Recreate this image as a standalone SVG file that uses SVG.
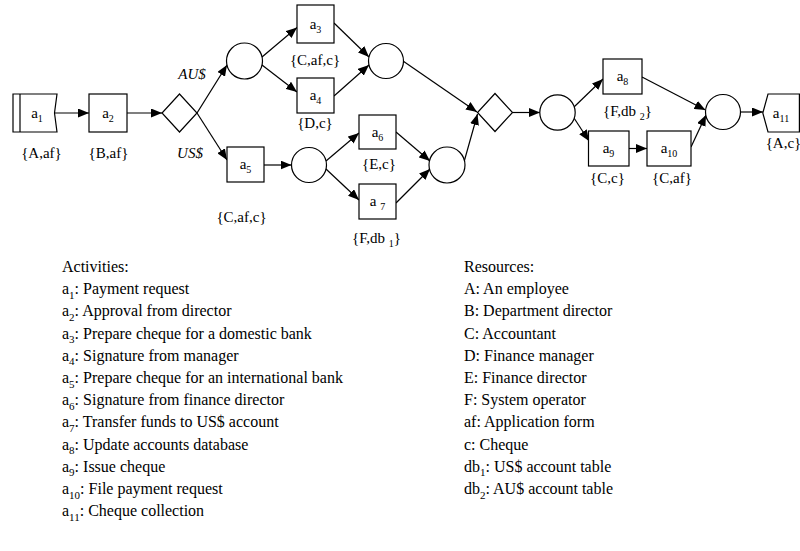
<svg xmlns="http://www.w3.org/2000/svg" width="800" height="551" viewBox="0 0 800 551">
  <defs>
    <marker id="ah" markerUnits="userSpaceOnUse" markerWidth="11" markerHeight="9" refX="11" refY="4.5" orient="auto">
      <path d="M0,0 L11,4.5 L0,9 z" fill="#000"/>
    </marker>
  </defs>
  <style>
    .shape { fill:#fff; stroke:#000; stroke-width:1.2; }
    .conn line { stroke:#000; stroke-width:1.2; marker-end:url(#ah); }
    text { font-family:"Liberation Serif","Times New Roman",serif; fill:#000; }
    .lbl { font-size:15px; text-anchor:middle; }
    .res { font-size:15px; text-anchor:middle; }
    .cond { font-size:15px; font-style:italic; text-anchor:middle; }
    .sub { font-size:10px; }
    .list { font-size:16px; }
    .lsub { font-size:11px; }
  </style>
  <rect width="800" height="551" fill="#fff"/>

  <!-- connectors -->
  <g id="connectors" class="conn">
    <line x1="55" y1="113" x2="89" y2="113"/>
    <line x1="127" y1="113" x2="162" y2="113"/>
    <line x1="197" y1="113" x2="227" y2="65"/>
    <line x1="197" y1="113" x2="227" y2="160"/>
    <line x1="262" y1="57" x2="297" y2="27.5"/>
    <line x1="262" y1="65" x2="297" y2="92"/>
    <line x1="334" y1="23" x2="369" y2="57"/>
    <line x1="334" y1="96" x2="369" y2="65"/>
    <line x1="403" y1="61" x2="477" y2="112"/>
    <line x1="264" y1="165" x2="291.5" y2="165"/>
    <line x1="326" y1="161" x2="359" y2="133"/>
    <line x1="326" y1="169" x2="359" y2="200"/>
    <line x1="396" y1="132" x2="430" y2="161"/>
    <line x1="396" y1="203" x2="430" y2="169"/>
    <line x1="464" y1="162" x2="477.5" y2="114"/>
    <line x1="512.5" y1="112.5" x2="540" y2="112.5"/>
    <line x1="574" y1="107" x2="603" y2="79"/>
    <line x1="574" y1="118" x2="589" y2="141"/>
    <line x1="629" y1="148.5" x2="647" y2="148.5"/>
    <line x1="642" y1="77" x2="705.5" y2="110"/>
    <line x1="691" y1="147" x2="706" y2="115"/>
    <line x1="740.5" y1="112" x2="763" y2="112"/>
  </g>

  <!-- a1: start activity -->
  <g id="a1">
    <path class="shape" d="M13,94 H57 L54.5,113 L57,132 H13 Z"/>
    <line x1="20" y1="94" x2="20" y2="132" stroke="#000" stroke-width="1.2"/>
    <text class="lbl" x="37" y="117.5">a<tspan class="sub" dy="4">1</tspan></text>
    <text class="res" x="41.5" y="158">{A,af}</text>
  </g>

  <g id="a2">
    <rect class="shape" x="89" y="94" width="38" height="38"/>
    <text class="lbl" x="108" y="117.5">a<tspan class="sub" dy="4">2</tspan></text>
    <text class="res" x="108.5" y="158">{B,af}</text>
  </g>

  <!-- decision -->
  <g id="xor-split">
    <path class="shape" d="M179.5,94 L197,113 L179.5,132 L162,113 Z"/>
    <text class="cond" x="192" y="79">AU$</text>
    <text class="cond" x="190" y="158">US$</text>
  </g>

  <g id="p1"><circle class="shape" cx="244.5" cy="61" r="18"/></g>

  <g id="a3">
    <rect class="shape" x="297" y="5" width="37" height="38"/>
    <text class="lbl" x="315.5" y="28.5">a<tspan class="sub" dy="4">3</tspan></text>
    <text class="res" x="315" y="65">{C,af,c}</text>
  </g>

  <g id="a4">
    <rect class="shape" x="297" y="78" width="37" height="35"/>
    <text class="lbl" x="315.5" y="100">a<tspan class="sub" dy="4">4</tspan></text>
    <text class="res" x="315" y="128">{D,c}</text>
  </g>

  <g id="p2"><circle class="shape" cx="386" cy="61" r="17.5"/></g>

  <g id="a5">
    <rect class="shape" x="227" y="147" width="37" height="35"/>
    <text class="lbl" x="245.5" y="169">a<tspan class="sub" dy="4">5</tspan></text>
    <text class="res" x="241.5" y="222">{C,af,c}</text>
  </g>

  <g id="p3"><circle class="shape" cx="309" cy="165" r="17.5"/></g>

  <g id="a6">
    <rect class="shape" x="359" y="115" width="37" height="34"/>
    <text class="lbl" x="377.5" y="136.5">a<tspan class="sub" dy="4">6</tspan></text>
    <text class="res" x="379" y="169">{E,c}</text>
  </g>

  <g id="a7">
    <rect class="shape" x="359" y="184" width="37" height="35"/>
    <text class="lbl" x="377.5" y="206">a <tspan class="sub" dy="4">7</tspan></text>
    <text class="res" x="376.5" y="243">{F,db <tspan class="sub" dy="4">1</tspan><tspan dy="-4">}</tspan></text>
  </g>

  <g id="p4"><circle class="shape" cx="447" cy="165" r="18"/></g>

  <!-- merge -->
  <g id="xor-join">
    <path class="shape" d="M495,93.5 L512.5,112.5 L495,131.5 L477.5,112.5 Z"/>
  </g>

  <g id="p5"><circle class="shape" cx="557.5" cy="112.5" r="17.7"/></g>

  <g id="a8">
    <rect class="shape" x="603" y="59" width="39" height="35"/>
    <text class="lbl" x="622.5" y="81">a<tspan class="sub" dy="4">8</tspan></text>
    <text class="res" x="627.5" y="116">{F,db <tspan class="sub" dy="4">2</tspan><tspan dy="-4">}</tspan></text>
  </g>

  <g id="a9">
    <rect class="shape" x="588.5" y="131" width="40.5" height="35"/>
    <text class="lbl" x="608.5" y="153">a<tspan class="sub" dy="4">9</tspan></text>
    <text class="res" x="607.5" y="183">{C,c}</text>
  </g>

  <g id="a10">
    <rect class="shape" x="647" y="131" width="44" height="35"/>
    <text class="lbl" x="669" y="153">a<tspan class="sub" dy="4">10</tspan></text>
    <text class="res" x="672" y="183">{C,af}</text>
  </g>

  <g id="p6"><circle class="shape" cx="723" cy="112" r="17.5"/></g>

  <!-- a11: end activity -->
  <g id="a11">
    <path class="shape" d="M768,94 H799.4 V132 H768 L762.8,113 Z"/>
    <text class="lbl" x="781" y="117.5">a<tspan class="sub" dy="4">11</tspan></text>
    <text class="res" x="783.5" y="148">{A,c}</text>
  </g>

  <!-- legend: activities -->
  <g id="activities" class="list">
    <text x="62" y="272">Activities:</text>
    <text x="62" y="294.2">a<tspan class="lsub" dy="4.5">1</tspan><tspan dy="-4.5">: Payment request</tspan></text>
    <text x="62" y="316.4">a<tspan class="lsub" dy="4.5">2</tspan><tspan dy="-4.5">: Approval from director</tspan></text>
    <text x="62" y="338.6">a<tspan class="lsub" dy="4.5">3</tspan><tspan dy="-4.5">: Prepare cheque for a domestic bank</tspan></text>
    <text x="62" y="360.8">a<tspan class="lsub" dy="4.5">4</tspan><tspan dy="-4.5">: Signature from manager</tspan></text>
    <text x="62" y="383">a<tspan class="lsub" dy="4.5">5</tspan><tspan dy="-4.5">: Prepare cheque for an international bank</tspan></text>
    <text x="62" y="405.2">a<tspan class="lsub" dy="4.5">6</tspan><tspan dy="-4.5">: Signature from finance director</tspan></text>
    <text x="62" y="427.4">a<tspan class="lsub" dy="4.5">7</tspan><tspan dy="-4.5">: Transfer funds to US$ account</tspan></text>
    <text x="62" y="449.6">a<tspan class="lsub" dy="4.5">8</tspan><tspan dy="-4.5">: Update accounts database</tspan></text>
    <text x="62" y="471.8">a<tspan class="lsub" dy="4.5">9</tspan><tspan dy="-4.5">: Issue cheque</tspan></text>
    <text x="62" y="494">a<tspan class="lsub" dy="4.5">10</tspan><tspan dy="-4.5">: File payment request</tspan></text>
    <text x="62" y="516.2">a<tspan class="lsub" dy="4.5">11</tspan><tspan dy="-4.5">: Cheque collection</tspan></text>
  </g>

  <!-- legend: resources -->
  <g id="resources" class="list">
    <text x="464" y="272">Resources:</text>
    <text x="464" y="294.2">A: An employee</text>
    <text x="464" y="316.4">B: Department director</text>
    <text x="464" y="338.6">C: Accountant</text>
    <text x="464" y="360.8">D: Finance manager</text>
    <text x="464" y="383">E: Finance director</text>
    <text x="464" y="405.2">F: System operator</text>
    <text x="464" y="427.4">af: Application form</text>
    <text x="464" y="449.6">c: Cheque</text>
    <text x="464" y="471.8">db<tspan class="lsub" dy="4.5">1</tspan><tspan dy="-4.5">: US$ account table</tspan></text>
    <text x="464" y="494">db<tspan class="lsub" dy="4.5">2</tspan><tspan dy="-4.5">: AU$ account table</tspan></text>
  </g>
</svg>
